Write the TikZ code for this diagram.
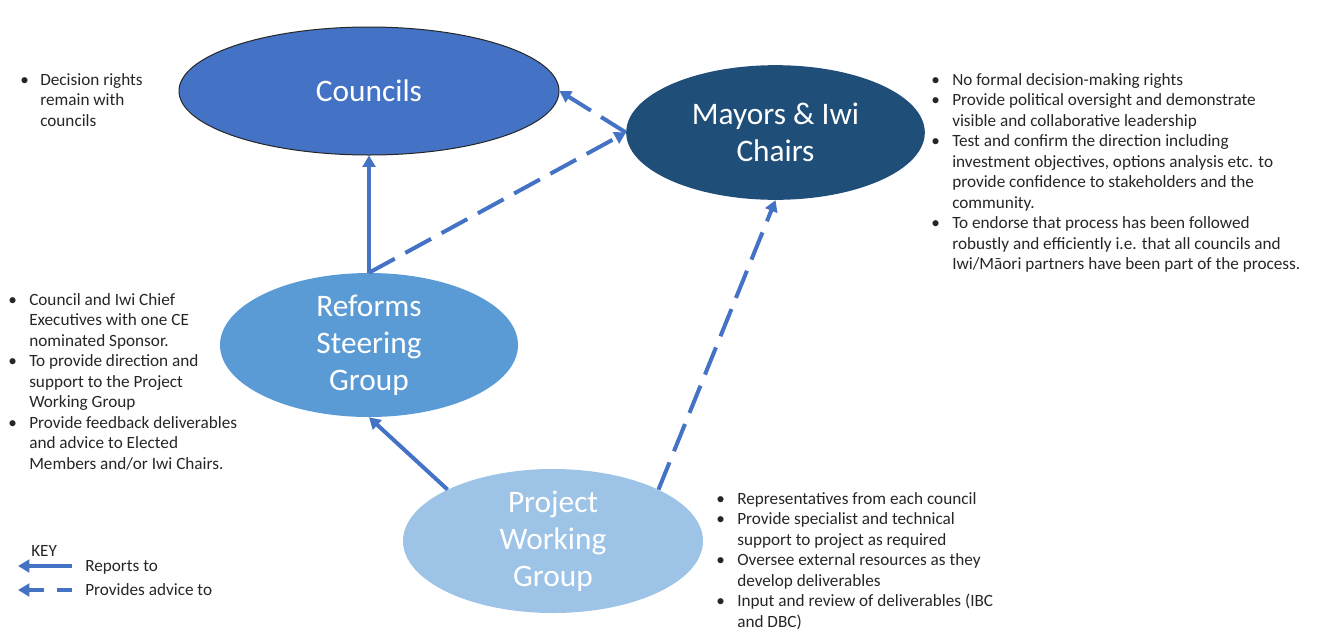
\documentclass[tikz,border=0pt]{standalone}
\usepackage{fontspec}
\setmainfont{Carlito}
\usetikzlibrary{arrows.meta,shapes.geometric}

\definecolor{cnclblue}{HTML}{4472C4}
\definecolor{mayorblue}{HTML}{1F4E79}
\definecolor{rsgblue}{HTML}{5B9BD5}
\definecolor{pwgblue}{HTML}{9DC3E6}
\definecolor{notegrey}{HTML}{262626}

% bullet list: first column holds the bullet, second the wrapped lines
\newcommand{\pts}[1]{\begin{tabular}[t]{@{}p{15.75pt}@{}l@{}}#1\end{tabular}}

\begin{document}
\begin{tikzpicture}[x=0.75pt, y=-0.75pt,
  body/.style={ellipse, inner sep=0pt, text=white, align=center, font=\fontsize{23.5}{27.75}\selectfont},
  note/.style={anchor=base west, inner sep=0pt, text=notegrey, font=\fontsize{12.9}{15.4}\selectfont},
  rep/.style={-{Triangle[length=8.5pt, width=9.5pt]}, draw=cnclblue, line width=3pt},
  adv/.style={rep, dash pattern=on 22pt off 9pt}]
\useasboundingbox (0,0) rectangle (1317,633);

\node[body, fill=cnclblue, draw=black!85, line width=0.75pt, minimum width=285pt, minimum height=96pt] (cncl) at (369,91) {Councils};
\node[body, fill=mayorblue, minimum width=224pt, minimum height=101pt] (mayor) at (775.5,132.5) {Mayors \& Iwi\\Chairs};
\node[body, fill=rsgblue, minimum width=223.5pt, minimum height=108pt] (rsg) at (369,345) {Reforms\\Steering\\Group};
\node[body, fill=pwgblue, minimum width=225pt, minimum height=108pt] (pwg) at (553,541) {Project\\Working\\Group};

\draw[rep] (rsg.north) -- (cncl.south);
\draw[adv] (rsg.north) -- (mayor.west);
\draw[adv] (mayor.west) -- (cncl.east);
\draw[rep] (pwg.154.3) -- (rsg.south);
\draw[adv] (pwg.26.1) -- (mayor.south);

\node[note] (cnclnote) at (20,85) {\begin{tabular}[t]{@{}p{15pt}@{}l@{}}\textbullet & Decision rights\\ & remain with\\ & councils\end{tabular}};
\node[note] (mayornote) at (931,85) {\pts{\textbullet & No formal decision-making rights\\
  \textbullet & Provide political oversight and demonstrate\\ & visible and collaborative leadership\\
  \textbullet & Test and confirm the direction including\\ & investment objectives, options analysis etc. to\\ & provide confidence to stakeholders and the\\ & community.\\
  \textbullet & To endorse that process has been followed\\ & robustly and efficiently i.e. that all councils and\\ & Iwi/Māori partners have been part of the process.}};
\node[note] (rsgnote) at (8,305) {\pts{\textbullet & Council and Iwi Chief\\ & Executives with one CE\\ & nominated Sponsor.\\
  \textbullet & To provide direction and\\ & support to the Project\\ & Working Group\\
  \textbullet & Provide feedback deliverables\\ & and advice to Elected\\ & Members and/or Iwi Chairs.}};
\node[note] (pwgnote) at (716,504) {\pts{\textbullet & Representatives from each council\\
  \textbullet & Provide specialist and technical\\ & support to project as required\\
  \textbullet & Oversee external resources as they\\ & develop deliverables\\
  \textbullet & Input and review of deliverables (IBC\\ & and DBC)}};

% key
\node[note] (key) at (31,556) {KEY};
\coordinate (repa) at (72,566); \coordinate (repb) at (18,566);
\coordinate (adva) at (72,590); \coordinate (advb) at (18,590);
\draw[rep] (repa) -- (repb);
\draw[rep, dash pattern=on 11pt off 10pt on 40pt] (adva) -- (advb);
\node[note] (replbl) at (85,571) {Reports to};
\node[note] (advlbl) at (85,595) {Provides advice to};
\end{tikzpicture}
\end{document}
